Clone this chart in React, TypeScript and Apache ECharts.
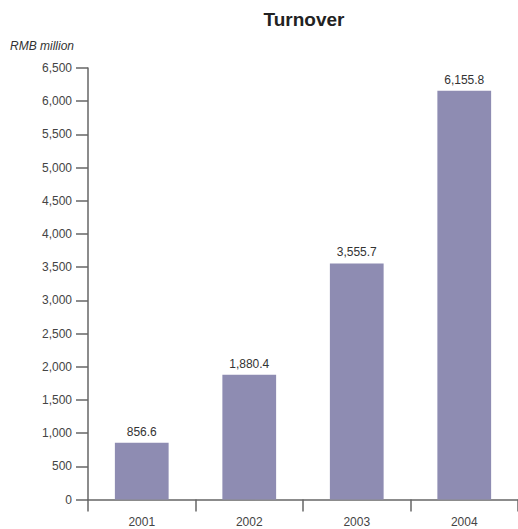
import React, { useEffect, useRef } from "react";
import * as echarts from "echarts";

const years = ["2001", "2002", "2003", "2004"];
const turnover = [856.6, 1880.4, 3555.7, 6155.8];
const yMin = 0;
const yMax = 6500;
const yStep = 500;

const fmt = (v: number, digits: number) =>
  v.toLocaleString("en-US", { minimumFractionDigits: digits, maximumFractionDigits: digits });

export default function App() {
  const ref = useRef<HTMLDivElement>(null);
  useEffect(() => {
    if (!ref.current) return;
    const chart = echarts.init(ref.current, null, { renderer: "svg" });
    const font = "'Liberation Sans', Arial, sans-serif";
    chart.setOption({
      animation: false,
      textStyle: { fontFamily: font },
      grid: { left: 88, top: 68, width: 430, bottom: 29.5, containLabel: false },
      graphic: [
        {
          type: "text",
          x: 304,
          y: 10,
          style: {
            text: "Turnover",
            fontFamily: font,
            fontSize: 19,
            fontWeight: "bold",
            fill: "#222",
            textAlign: "center",
          },
        },
        {
          type: "text",
          x: 10,
          y: 40,
          style: {
            text: "RMB million",
            fontFamily: font,
            fontSize: 12,
            fontStyle: "italic",
            fill: "#333",
          },
        },
      ],
      xAxis: {
        type: "category",
        data: years,
        boundaryGap: true,
        axisLine: { lineStyle: { color: "#666", width: 1.5 } },
        axisTick: { show: true, length: 12, alignWithLabel: false, lineStyle: { color: "#666", width: 1.5 } },
        axisLabel: { color: "#444", fontSize: 12, margin: 16 },
      },
      yAxis: {
        type: "value",
        min: yMin,
        max: yMax,
        interval: yStep,
        splitLine: { show: false },
        axisLine: { show: true, lineStyle: { color: "#666", width: 1.5 } },
        axisTick: { show: true, length: 12, lineStyle: { color: "#666", width: 1.5 } },
        axisLabel: { color: "#444", fontSize: 12, margin: 16, formatter: (v: number) => fmt(v, 0) },
      },
      series: [
        {
          type: "bar",
          data: turnover,
          barWidth: "50%",
          itemStyle: { color: "#8e8cb2" },
          label: {
            show: true,
            position: "top",
            distance: 5,
            color: "#333",
            fontSize: 12,
            formatter: (p: any) => fmt(p.value, 1),
          },
        },
      ],
    });
    return () => chart.dispose();
  }, []);
  return <div ref={ref} style={{ width: 518, height: 529, position: "absolute", left: 0, top: 0 }} />;
}
